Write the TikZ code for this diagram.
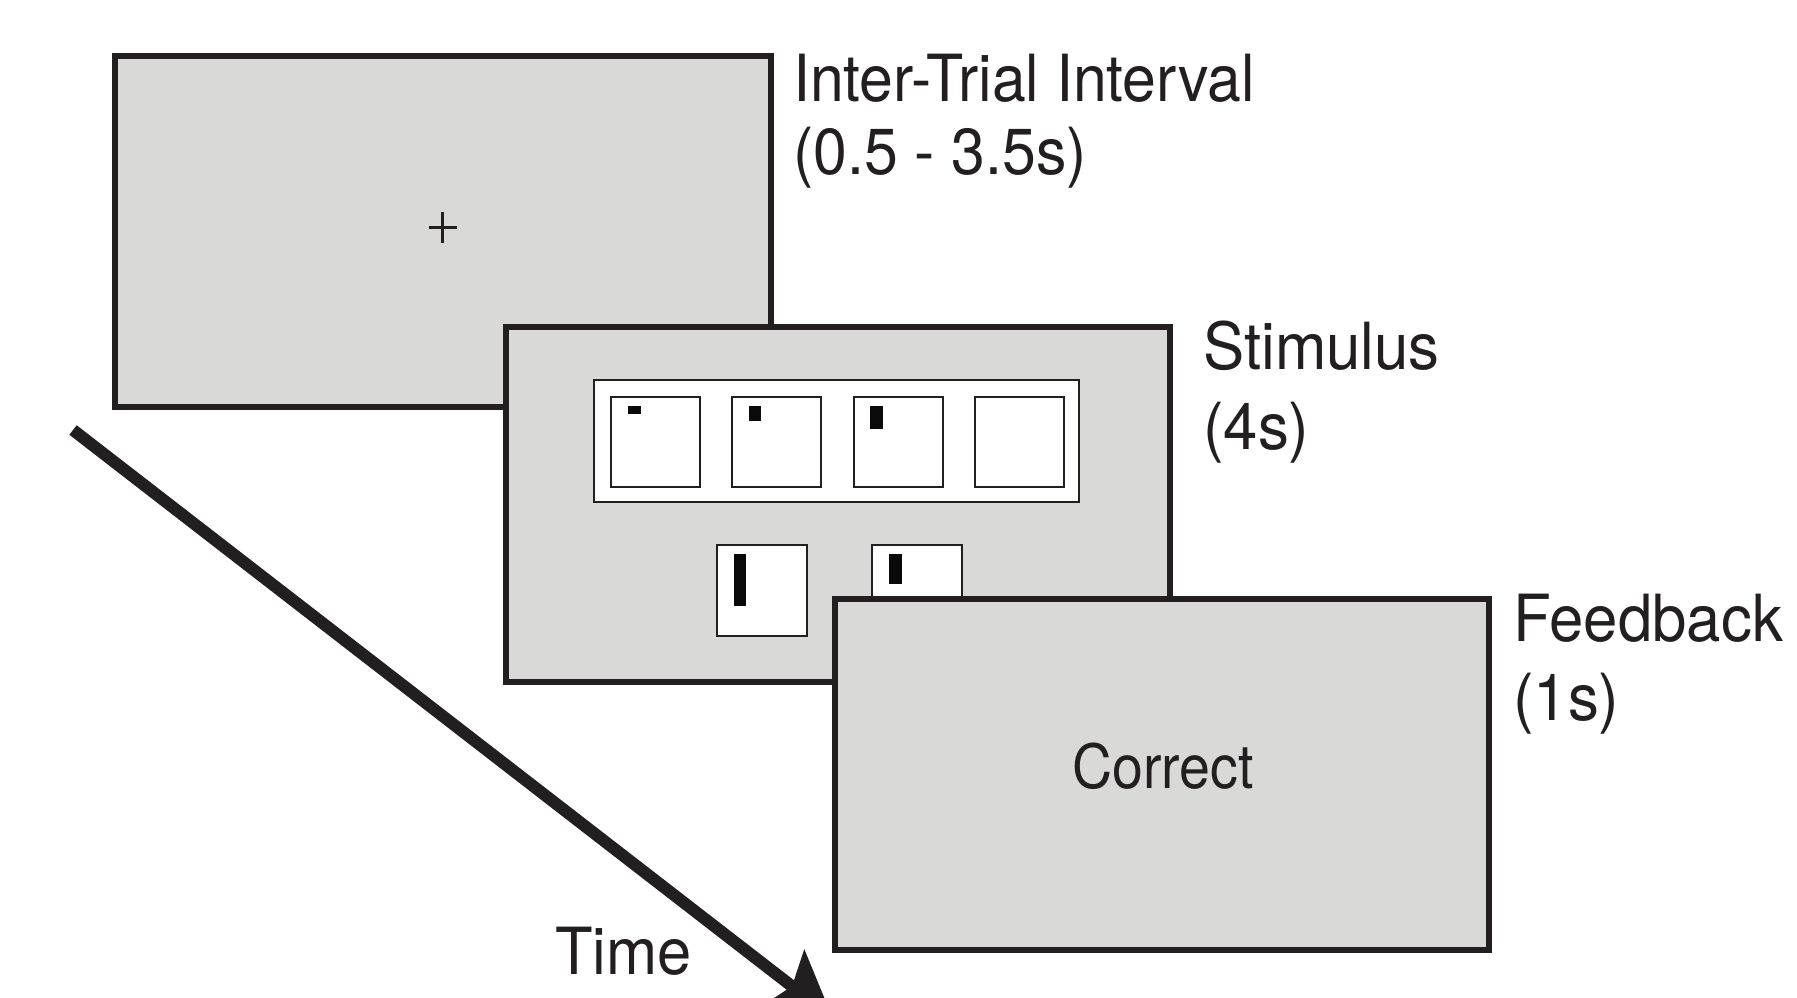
\documentclass[tikz,border=0pt]{standalone}
\usepackage{fontspec}
\setmainfont{TeX Gyre Heros}
\usepackage{graphicx}
\definecolor{ink}{RGB}{35,31,32}
\definecolor{screenfill}{RGB}{217,217,215}
\begin{document}
\begin{tikzpicture}[x=1pt,y=-1pt,
  screen/.style={draw=ink, line width=6pt, fill=screenfill, rectangle, inner sep=0pt},
  cell/.style={draw=ink, line width=1.8pt, fill=white, rectangle, inner sep=0pt, minimum width=89.4pt, minimum height=90.4pt},
  lbl/.style={anchor=base west, inner sep=0pt, text=ink, font=\fontsize{65}{78}\selectfont},
  bar/.style={fill=black!96}]
\useasboundingbox (0,0) rectangle (1797,998);
\clip (0,0) rectangle (1797,998);
\fill[white] (0,0) rectangle (1797,998);

% Inter-trial interval screen
\node[screen, minimum width=656pt, minimum height=351pt] (iti) at (443.2,231.5) {};
\draw[ink, line width=3.2pt] (428.5,227.5) -- (457,227.5) (442.8,212) -- (442.8,243);

% Stimulus screen
\node[screen, minimum width=664pt, minimum height=355pt] (stim) at (838.3,504.5) {};
\node[draw=ink, line width=2.2pt, fill=white, rectangle, inner sep=0pt, minimum width=485pt, minimum height=122pt] (strip) at (836.5,441) {};
\node[cell] (c1) at (655.5,442) {};
\node[cell] (c2) at (776.5,442) {};
\node[cell] (c3) at (898.5,442) {};
\node[cell] (c4) at (1019.5,442) {};
\fill[bar] (628,406) rectangle (641,414);
\fill[bar] (749,406) rectangle (761,421);
\fill[bar] (870,406) rectangle (883,429);
\node[cell, minimum width=90.4pt, minimum height=91.4pt] (ca) at (762,590.5) {};
\node[cell, minimum width=90.4pt, minimum height=91.4pt] (cb) at (917,590.5) {};
\fill[bar] (734,554) rectangle (746,606);
\fill[bar] (889,554) rectangle (902,584);

% Feedback screen
\node[screen, minimum width=654pt, minimum height=351pt] (fb) at (1162.3,774.5) {};
\node[anchor=base, inner sep=0pt, text=ink, font=\fontsize{61}{72}\selectfont] (correct) at (1163,788) {\scalebox{0.91}[1]{Correct}};

% Labels
\node[lbl] (itiA) at (793,101) {\scalebox{0.935}[1]{Inter-Trial Interval}};
\node[lbl] (itiB) at (793,174) {\scalebox{0.935}[1]{(0.5 - 3.5s)}};
\node[lbl] (stimA) at (1203,369) {\scalebox{0.95}[1]{Stimulus}};
\node[lbl] (stimB) at (1203,449) {\scalebox{0.95}[1]{(4s)}};
\node[lbl] (fbA) at (1513,641) {\scalebox{0.95}[1]{Feedback}};
\node[lbl] (fbB) at (1513,720) {\scalebox{0.95}[1]{(1s)}};
\node[lbl] (time) at (555,974) {\scalebox{0.945}[1]{Time}};

% Time arrow
\coordinate (as) at (73,430);
\coordinate (ae) at (800.7,993);
\coordinate (tip) at (832.4,1017.5);
\coordinate (b1) at (804.3,949.1);
\coordinate (b2) at (759.1,1007.7);
\coordinate (notch) at (792,986.3);
\draw[ink, line width=12pt] (as) -- (ae);
\fill[ink] (tip) -- (b1) -- (notch) -- (b2) -- cycle;
\end{tikzpicture}
\end{document}
